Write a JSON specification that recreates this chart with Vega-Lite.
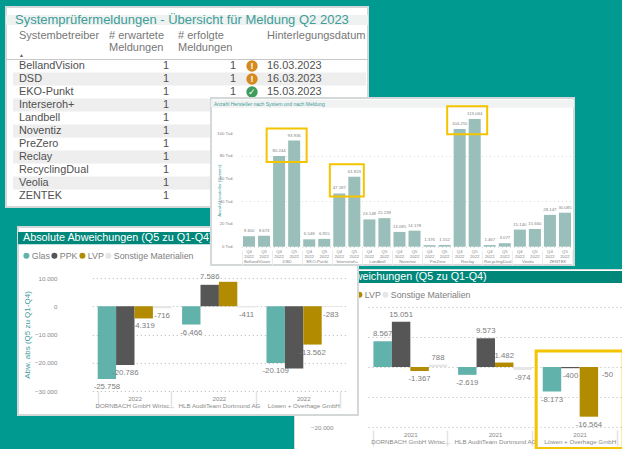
{
"$schema":"https://vega.github.io/schema/vega-lite/v6.json",
"background":"#009A90",
"padding":0,
"config":{"font":"Liberation Sans","concat":{"spacing":0},"view":{"stroke":null},"axis":{"labelOverlap":false}},
"datasets":{
"meldungen":[
{"system":"BellandVision","expected":1,"done":1,"status":"warn","date":"16.03.2023"},
{"system":"DSD","expected":1,"done":1,"status":"warn","date":"16.03.2023"},
{"system":"EKO-Punkt","expected":1,"done":1,"status":"ok","date":"15.03.2023"},
{"system":"Interseroh+","expected":1},
{"system":"Landbell","expected":1},
{"system":"Noventiz","expected":1},
{"system":"PreZero","expected":1},
{"system":"Reclay","expected":1},
{"system":"RecyclingDual","expected":1},
{"system":"Veolia","expected":1},
{"system":"ZENTEK","expected":1}],
"hersteller":[
{"system":"BellandVision","q":"Q4","value":9300,"label":"9.300"},{"system":"BellandVision","q":"Q5","value":9673,"label":"9.673"},
{"system":"DSD","q":"Q4","value":80244,"label":"80.244"},{"system":"DSD","q":"Q5","value":93936,"label":"93.936"},
{"system":"EKO-Punkt","q":"Q4","value":6548,"label":"6.548"},{"system":"EKO-Punkt","q":"Q5","value":6915,"label":"6.915"},
{"system":"Interseroh+","q":"Q4","value":47187,"label":"47.187"},{"system":"Interseroh+","q":"Q5","value":61823,"label":"61.823"},
{"system":"Landbell","q":"Q4","value":24148,"label":"24.148"},{"system":"Landbell","q":"Q5","value":25239,"label":"25.239"},
{"system":"Noventiz","q":"Q4","value":13085,"label":"13.085"},{"system":"Noventiz","q":"Q5","value":14178,"label":"14.178"},
{"system":"PreZero","q":"Q4","value":1376,"label":"1.376"},{"system":"PreZero","q":"Q5","value":1552,"label":"1.552"},
{"system":"Reclay","q":"Q4","value":104255,"label":"104.255"},{"system":"Reclay","q":"Q5","value":113044,"label":"113.044"},
{"system":"RecyclingDual","q":"Q4","value":1467,"label":"1.467"},{"system":"RecyclingDual","q":"Q5","value":3077,"label":"3.077"},
{"system":"Veolia","q":"Q4","value":15140,"label":"15.140"},{"system":"Veolia","q":"Q5","value":15660,"label":"15.660"},
{"system":"ZENTEK","q":"Q4","value":28147,"label":"28.147"},{"system":"ZENTEK","q":"Q5","value":30085,"label":"30.085"}],
"abw2022":[
{"firma":"DORNBACH GmbH Wirtsc...","material":"Glas","value":-25758,"label":"-25.758"},
{"firma":"DORNBACH GmbH Wirtsc...","material":"PPK","value":-20786,"label":"-20.786"},
{"firma":"DORNBACH GmbH Wirtsc...","material":"LVP","value":-4319,"label":"-4.319"},
{"firma":"DORNBACH GmbH Wirtsc...","material":"Sonstige Materialien","value":-716,"label":"-716"},
{"firma":"HLB AuditTeam Dortmund AG","material":"Glas","value":-6466,"label":"-6.466"},
{"firma":"HLB AuditTeam Dortmund AG","material":"PPK","value":7586,"label":"7.586"},
{"firma":"HLB AuditTeam Dortmund AG","material":"LVP","value":8650,"label":""},
{"firma":"HLB AuditTeam Dortmund AG","material":"Sonstige Materialien","value":-411,"label":"-411"},
{"firma":"Löwen + Overhage GmbH","material":"Glas","value":-20109,"label":"-20.109"},
{"firma":"Löwen + Overhage GmbH","material":"PPK","value":-22000,"label":""},
{"firma":"Löwen + Overhage GmbH","material":"LVP","value":-13562,"label":"-13.562"},
{"firma":"Löwen + Overhage GmbH","material":"Sonstige Materialien","value":-283,"label":"-283"}],
"abw2021":[
{"firma":"DORNBACH GmbH Wirtsc...","material":"Glas","value":8567,"label":"8.567"},
{"firma":"DORNBACH GmbH Wirtsc...","material":"PPK","value":15051,"label":"15.051"},
{"firma":"DORNBACH GmbH Wirtsc...","material":"LVP","value":-1367,"label":"-1.367"},
{"firma":"DORNBACH GmbH Wirtsc...","material":"Sonstige Materialien","value":788,"label":"788"},
{"firma":"HLB AuditTeam Dortmund AG","material":"Glas","value":-2619,"label":"-2.619"},
{"firma":"HLB AuditTeam Dortmund AG","material":"PPK","value":9573,"label":"9.573"},
{"firma":"HLB AuditTeam Dortmund AG","material":"LVP","value":1482,"label":"1.482"},
{"firma":"HLB AuditTeam Dortmund AG","material":"Sonstige Materialien","value":-974,"label":"-974"},
{"firma":"Löwen + Overhage GmbH","material":"Glas","value":-8173,"label":"-8.173"},
{"firma":"Löwen + Overhage GmbH","material":"PPK","value":-400,"label":"-400"},
{"firma":"Löwen + Overhage GmbH","material":"LVP","value":-16564,"label":"-16.564"},
{"firma":"Löwen + Overhage GmbH","material":"Sonstige Materialien","value":-50,"label":"-50"}]
},
"bounds":"flush",
"spacing":0,
"resolve":{"scale":{"color":"independent","xOffset":"independent"},"legend":{"color":"independent"}},
"vconcat":[
{"spacing":0,"resolve":{"scale":{"color":"independent","xOffset":"independent"},"legend":{"color":"independent"}},"vconcat":[
 {"width":1,"height":6,"data":{"values":[]},"mark":"point"},
 {"width":362,"height":200,"view":{"fill":"#ffffff","stroke":"#d4d8d8","strokeWidth":2},
  "data":{"name":"meldungen"},
  "encoding":{"y":{"field":"system","type":"nominal","axis":null,"scale":{"domain":["BellandVision","DSD","EKO-Punkt","Interseroh+","Landbell","Noventiz","PreZero","Reclay","RecyclingDual","Veolia","ZENTEK"],"range":[52.5,195.5],"paddingInner":0,"paddingOuter":0}}},
  "layer":[
   {"data":{"values":[{"h":"Titelzeile"}]},"mark":{"type":"rule","color":"#eef2f1","strokeWidth":10},"encoding":{"y":{"datum":"BellandVision","bandPosition":-3.04}}},
   {"data":{"values":[{"h":"Systemprüfermeldungen - Übersicht für Meldung Q2 2023"}]},"mark":{"type":"text","align":"left","dx":-172,"dy":-46,"fontSize":13,"color":"#3E9D98"},"encoding":{"y":{"datum":"BellandVision"},"text":{"field":"h"}}},
   {"transform":[{"filter":"indexof(['DSD','Interseroh+','Noventiz','Reclay','Veolia'],datum.system)>=0"}],"mark":{"type":"rect","fill":"#eeeeee","width":353,"xOffset":-178.5}},
   {"data":{"values":[{"h":"Kopf"}]},"mark":{"type":"rule","color":"#c8c8c8","strokeWidth":1},"encoding":{"y":{"datum":"BellandVision","bandPosition":0}}},
   {"mark":{"type":"text","align":"left","dx":-168,"fontSize":10.9,"color":"#505050"},"encoding":{"text":{"field":"system"}}},
   {"mark":{"type":"text","align":"right","dx":-18,"fontSize":10.9,"color":"#505050"},"encoding":{"text":{"field":"expected"}}},
   {"transform":[{"filter":"datum.done"}],"mark":{"type":"text","align":"right","dx":49,"fontSize":10.9,"color":"#505050"},"encoding":{"text":{"field":"done"}}},
   {"transform":[{"filter":"datum.status=='warn'"}],"mark":{"type":"point","filled":true,"shape":"circle","size":130,"opacity":1,"xOffset":65,"color":"#D48A1F"}},
   {"transform":[{"filter":"datum.status=='ok'"}],"mark":{"type":"point","filled":true,"shape":"circle","size":130,"opacity":1,"xOffset":65,"color":"#3F9C5C"}},
   {"transform":[{"filter":"datum.status=='warn'"}],"mark":{"type":"text","dx":65,"fontSize":9,"fontWeight":"bold","color":"#ffffff","text":"!"}},
   {"transform":[{"filter":"datum.status=='ok'"}],"mark":{"type":"text","dx":65,"fontSize":9,"color":"#ffffff","text":"✓"}},
   {"transform":[{"filter":"datum.date"}],"mark":{"type":"text","align":"left","dx":80,"fontSize":10.9,"color":"#505050"},"encoding":{"text":{"field":"date"}}},
   {"data":{"values":[{"h":"Systembetreiber"}]},"mark":{"type":"text","align":"left","dx":-168,"dy":-30,"fontSize":11,"color":"#777777"},"encoding":{"y":{"datum":"BellandVision"},"text":{"field":"h"}}},
   {"data":{"values":[{"h":["# erwartete","Meldungen"]}]},"mark":{"type":"text","align":"left","baseline":"top","dx":-78,"dy":-36,"lineHeight":11.5,"fontSize":11,"color":"#777777"},"encoding":{"y":{"datum":"BellandVision"},"text":{"field":"h"}}},
   {"data":{"values":[{"h":["# erfolgte","Meldungen"]}]},"mark":{"type":"text","align":"left","baseline":"top","dx":-9,"dy":-36,"lineHeight":11.5,"fontSize":11,"color":"#777777"},"encoding":{"y":{"datum":"BellandVision"},"text":{"field":"h"}}},
   {"data":{"values":[{"h":"Hinterlegungsdatum"}]},"mark":{"type":"text","align":"left","dx":80,"dy":-30,"fontSize":11,"color":"#777777"},"encoding":{"y":{"datum":"BellandVision"},"text":{"field":"h"}}},
   {"data":{"values":[{"h":"▲"}]},"mark":{"type":"text","align":"left","dx":-168,"dy":-11,"fontSize":5,"color":"#606060"},"encoding":{"y":{"datum":"BellandVision"},"text":{"field":"h"}}}
  ]}
]},
{"spacing":0,"resolve":{"scale":{"color":"independent","xOffset":"independent"},"legend":{"color":"independent"}},"hconcat":[
  {"width":286.5,"height":1,"data":{"values":[]},"mark":"point"},
  {"spacing":0,"resolve":{"scale":{"color":"independent","xOffset":"independent"},"legend":{"color":"independent"}},"vconcat":[
  {"width":1,"height":267.5,"data":{"values":[]},"mark":"point"},
  {"width":330,"height":181,"view":{"fill":"#ffffff","stroke":"#d4d8d8","strokeWidth":1},
   "data":{"name":"abw2021"},
   "layer":[
    {"data":{"values":[{"t":"Kopf"}]},"mark":{"type":"rect","fill":"#00877A"},"encoding":{"y":{"datum":32000,"scale":{"domain":[-20000,20000],"range":[158,38],"nice":false,"zero":false}},"y2":{"datum":28000}}},
    {"data":{"values":[{"t":"Absolute Abweichungen (Q5 zu Q1-Q4)"}]},"mark":{"type":"text","align":"left","dx":-162,"fontSize":10.8,"color":"#ffffff"},"encoding":{"y":{"datum":30000},"text":{"field":"t"}}},
    {"mark":{"type":"bar"},
     "encoding":{
      "x":{"field":"firma","type":"nominal","scale":{"domain":["DORNBACH GmbH Wirtsc...","HLB AuditTeam Dortmund AG","Löwen + Overhage GmbH"],"range":[74,328],"paddingInner":0.128,"paddingOuter":0.064},
       "axis":{"title":null,"labelExpr":"datum.label ? ['2021', datum.label] : ''","labelAngle":0,"labelFontSize":6.2,"labelColor":"#8a8a8a","labelLimit":0,"labelLineHeight":7,"domain":false,"ticks":true,"tickBand":"extent","tickSize":16,"tickColor":"#e3e3e3","tickWidth":1.5,"labelPadding":-15,"offset":-20,"grid":false}},
      "xOffset":{"field":"material","type":"nominal","scale":{"domain":["Glas","PPK","LVP","Sonstige Materialien"],"paddingInner":0,"paddingOuter":0}},
      "y":{"field":"value","type":"quantitative","scale":{"domain":[-20000,20000],"range":[158,38],"nice":false,"zero":false},
       "axis":{"title":null,"values":[-20000,-10000,0,10000,20000],"labelExpr":"replace(format(datum.value,','),',','.')","labelOverlap":false,"offset":-41,"ticks":false,"domain":false,"labelFontSize":6.2,"labelColor":"#8a8a8a","labelPadding":2,"grid":true,"gridColor":"#b5b5b5","gridDash":[1,3],"gridWidth":1}},
      "color":{"field":"material","type":"nominal","title":null,"scale":{"domain":["Glas","PPK","LVP","Sonstige Materialien"],"range":["#62B2AC","#565656","#B38B00","#E6E6E6"]},
       "legend":{"orient":"none","legendX":5,"legendY":21,"direction":"horizontal","symbolType":"circle","symbolSize":36,"labelFontSize":8.8,"labelColor":"#808080","columnPadding":0,"symbolOpacity":1,"labelOffset":1}}
     }},
    {"transform":[{"filter":"datum.value>=0"}],"mark":{"type":"text","dy":-7,"fontSize":7.8,"color":"#7d7d7d","baseline":"middle"},"encoding":{"x":{"field":"firma","type":"nominal"},"xOffset":{"field":"material","type":"nominal"},"y":{"field":"value","type":"quantitative"},"text":{"field":"label"}}},
    {"transform":[{"filter":"datum.value<0"}],"mark":{"type":"text","dy":8,"fontSize":7.8,"color":"#7d7d7d","baseline":"middle"},"encoding":{"x":{"field":"firma","type":"nominal"},"xOffset":{"field":"material","type":"nominal"},"y":{"field":"value","type":"quantitative"},"text":{"field":"label"}}},
    {"data":{"values":[{"firma":"Löwen + Overhage GmbH"}]},"mark":{"type":"rect","fillOpacity":0,"stroke":"#F5C400","strokeWidth":3,"width":87},"encoding":{"x":{"field":"firma","type":"nominal"},"y":{"datum":5300},"y2":{"datum":-27200}}}
   ]}
  ]}
]},
{"spacing":0,"resolve":{"scale":{"color":"independent","xOffset":"independent"},"legend":{"color":"independent"}},"hconcat":[
   {"width":11,"height":1,"data":{"values":[]},"mark":"point"},
   {"spacing":0,"resolve":{"scale":{"color":"independent","xOffset":"independent"},"legend":{"color":"independent"}},"vconcat":[
   {"width":1,"height":226,"data":{"values":[]},"mark":"point"},
   {"width":340,"height":188,"view":{"fill":"#ffffff","stroke":"#d4d8d8","strokeWidth":2},
    "data":{"name":"abw2022"},
    "layer":[
     {"data":{"values":[{"t":"Kopf"}]},"mark":{"type":"rect","fill":"#00877A"},"encoding":{"y":{"datum":26240,"scale":{"domain":[-30000,10000],"range":[164,51],"nice":false,"zero":false}},"y2":{"datum":21990}}},
     {"data":{"values":[{"t":"Absolute Abweichungen (Q5 zu Q1-Q4)"}]},"mark":{"type":"text","align":"left","dx":-165,"fontSize":10.8,"color":"#ffffff"},"encoding":{"y":{"datum":24100},"text":{"field":"t"}}},
     {"mark":{"type":"bar"},
      "encoding":{
       "x":{"field":"firma","type":"nominal","scale":{"domain":["DORNBACH GmbH Wirtsc...","HLB AuditTeam Dortmund AG","Löwen + Overhage GmbH"],"range":[74.3,327.5],"paddingInner":0.128,"paddingOuter":0.064},
        "axis":{"title":null,"labelExpr":"datum.label ? ['2022', datum.label] : ''","labelAngle":0,"labelFontSize":6.2,"labelColor":"#8a8a8a","labelLimit":0,"labelLineHeight":7,"domain":false,"ticks":true,"tickBand":"extent","tickSize":17,"tickColor":"#e3e3e3","tickWidth":1.5,"labelPadding":-13,"offset":-24,"grid":false}},
       "xOffset":{"field":"material","type":"nominal","scale":{"domain":["Glas","PPK","LVP","Sonstige Materialien"],"paddingInner":0,"paddingOuter":0}},
       "y":{"field":"value","type":"quantitative","scale":{"domain":[-30000,10000],"range":[164,51],"nice":false,"zero":false},
        "axis":{"title":"Abw. abs (Q5 zu Q1-Q4)","titleColor":"#3E9D98","titleFontSize":8,"titleFontWeight":"normal","titlePadding":3,"values":[-30000,-20000,-10000,0,10000],"labelExpr":"replace(format(datum.value,','),',','.')","labelOverlap":false,"offset":-41,"ticks":false,"domain":false,"labelFontSize":6.2,"labelColor":"#8a8a8a","labelPadding":2,"grid":true,"gridColor":"#b5b5b5","gridDash":[1,3],"gridWidth":1}},
       "color":{"field":"material","type":"nominal","title":null,"scale":{"domain":["Glas","PPK","LVP","Sonstige Materialien"],"range":["#62B2AC","#565656","#B38B00","#E6E6E6"]},
        "legend":{"orient":"none","legendX":4,"legendY":24,"direction":"horizontal","symbolType":"circle","symbolSize":36,"labelFontSize":8.8,"labelColor":"#808080","columnPadding":0,"symbolOpacity":1,"labelOffset":1}}
      }},
     {"transform":[{"filter":"datum.value>=0"}],"mark":{"type":"text","dy":-8,"fontSize":7.8,"color":"#7d7d7d","baseline":"middle"},"encoding":{"x":{"field":"firma","type":"nominal"},"xOffset":{"field":"material","type":"nominal"},"y":{"field":"value","type":"quantitative"},"text":{"field":"label"}}},
     {"transform":[{"filter":"datum.value<0"}],"mark":{"type":"text","dy":8,"fontSize":7.8,"color":"#7d7d7d","baseline":"middle"},"encoding":{"x":{"field":"firma","type":"nominal"},"xOffset":{"field":"material","type":"nominal"},"y":{"field":"value","type":"quantitative"},"text":{"field":"label"}}}
    ]}
   ]}
]},
{"spacing":0,"resolve":{"scale":{"color":"independent","xOffset":"independent"},"legend":{"color":"independent"}},"hconcat":[
   {"width":204,"height":1,"data":{"values":[]},"mark":"point"},
   {"spacing":0,"resolve":{"scale":{"color":"independent","xOffset":"independent"},"legend":{"color":"independent"}},"vconcat":[
   {"width":1,"height":97,"data":{"values":[]},"mark":"point"},
   {"width":363,"height":167,"view":{"fill":"#ffffff","stroke":"#d4d8d8","strokeWidth":2},
    "data":{"name":"hersteller"},
    "layer":[
     {"data":{"values":[{"t":"Kopf"}]},"mark":{"type":"rect","fill":"#f1f3f3"},"encoding":{"y":{"datum":130000,"scale":{"domain":[0,100000],"range":[148.7,35.7],"nice":false}},"y2":{"datum":123000}}},
     {"data":{"values":[{"t":"Anzahl Hersteller nach System und nach Meldung"}]},"mark":{"type":"text","align":"left","dx":-178.5,"fontSize":5,"color":"#3E9D98"},"encoding":{"y":{"datum":126500},"text":{"field":"t"}}},
     {"mark":{"type":"bar","color":"#9ABFBA"},
      "encoding":{
       "x":{"field":"system","type":"nominal","scale":{"domain":["BellandVision","DSD","EKO-Punkt","Interseroh+","Landbell","Noventiz","PreZero","Reclay","RecyclingDual","Veolia","ZENTEK"],"range":[30.5,361.5],"paddingInner":0,"paddingOuter":0},
        "axis":{"title":null,"labelAngle":0,"labelFontSize":4.3,"labelColor":"#808080","labelLimit":0,"labelOverlap":false,"domain":false,"tickBand":"extent","tickSize":15,"tickColor":"#ececec","tickWidth":1,"labelPadding":-6,"offset":-15,"grid":false}},
       "xOffset":{"field":"q","type":"nominal","scale":{"domain":["Q4","Q5"],"paddingInner":0.2,"paddingOuter":0.1}},
       "y":{"field":"value","type":"quantitative","scale":{"domain":[0,100000],"range":[148.7,35.7],"nice":false},
        "axis":{"title":"Anzahl Hersteller (System)","titleColor":"#3E9D98","titleFontSize":4.4,"titleFontWeight":"normal","titlePadding":14,"values":[0,20000,40000,60000,80000,100000],"labels":false,"offset":-24,"ticks":false,"domain":false,"grid":true,"gridColor":"#cccccc","gridDash":[1,3],"gridWidth":0.7}}
      }},
     {"data":{"values":[{"v":0,"t":"0 Tsd."},{"v":20000,"t":"20 Tsd."},{"v":40000,"t":"40 Tsd."},{"v":60000,"t":"60 Tsd."},{"v":80000,"t":"80 Tsd."},{"v":100000,"t":"100 Tsd."}]},"mark":{"type":"text","align":"right","dx":-159,"fontSize":4.3,"color":"#808080"},"encoding":{"y":{"field":"v","type":"quantitative"},"text":{"field":"t"}}},
     {"mark":{"type":"text","dy":-5,"fontSize":4.3,"color":"#808080"},"encoding":{"x":{"field":"system","type":"nominal"},"xOffset":{"field":"q","type":"nominal"},"y":{"field":"value","type":"quantitative"},"text":{"field":"label"}}},
     {"mark":{"type":"text","fontSize":4.3,"color":"#808080"},"encoding":{"x":{"field":"system","type":"nominal"},"xOffset":{"field":"q","type":"nominal"},"y":{"datum":-5000},"text":{"field":"q"}}},
     {"mark":{"type":"text","fontSize":4.3,"color":"#808080","text":"2022"},"encoding":{"x":{"field":"system","type":"nominal"},"xOffset":{"field":"q","type":"nominal"},"y":{"datum":-9000}}},
     {"data":{"values":[{"system":"DSD","von":75000,"bis":104500},{"system":"Reclay","von":99500,"bis":124200}]},"mark":{"type":"rect","fillOpacity":0,"stroke":"#F5C400","strokeWidth":2,"width":40},"encoding":{"x":{"field":"system","type":"nominal"},"y":{"field":"von","type":"quantitative"},"y2":{"field":"bis"}}},
     {"data":{"values":[{"system":"Interseroh+","von":44500,"bis":73000}]},"mark":{"type":"rect","fillOpacity":0,"stroke":"#F5C400","strokeWidth":2,"width":34},"encoding":{"x":{"field":"system","type":"nominal"},"y":{"field":"von","type":"quantitative"},"y2":{"field":"bis"}}}
    ]}
   ]}
]}
]
}
